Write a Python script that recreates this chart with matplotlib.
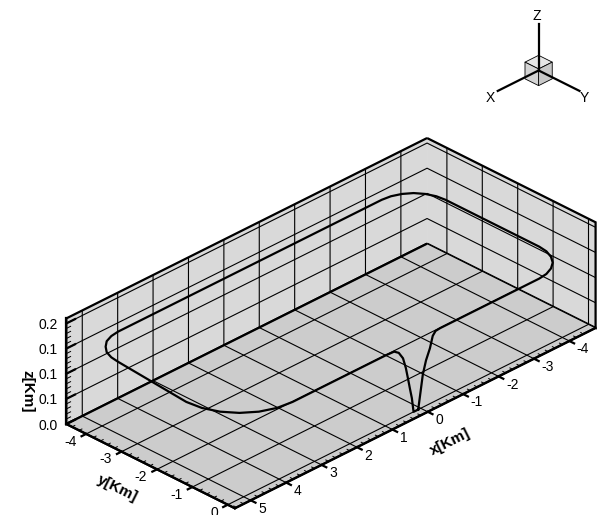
import numpy as np
import matplotlib
matplotlib.use('Agg')
import matplotlib.pyplot as plt
from matplotlib.ticker import FixedLocator
from mpl_toolkits.mplot3d.art3d import Poly3DCollection

plt.rcParams['font.family'] = ['Liberation Sans', 'DejaVu Sans']
plt.rcParams['axes.unicode_minus'] = False

# flight path: climb-out from the runway, circuit, approach and touchdown
path_x = [0.07, 0.03, -0.02, -0.06, -0.15, -0.26, -0.34, -0.42, -0.55, -1.0,
          -3.35, -3.58, -3.80, -3.99, -4.13, -4.22, -4.25,
          -4.25, -4.22, -4.13, -3.99, -3.80, -3.58, -3.35,
          4.10, 4.32, 4.53, 4.70, 4.84, 4.92, 4.95,
          5.12, 5.07, 4.92, 4.68, 4.37, 4.01, 3.62,
          1.0, 0.75, 0.62, 0.50, 0.42, 0.36, 0.30, 0.25, 0.21, 0.20, 0.07]
path_y = [0.0, 0.0, 0.0, 0.0, 0.0, 0.0, 0.0, 0.0, 0.0, 0.0,
          0.0, -0.03, -0.12, -0.26, -0.45, -0.67, -0.90,
          -3.55, -3.78, -4.00, -4.19, -4.33, -4.42, -4.45,
          -4.45, -4.42, -4.34, -4.20, -4.03, -3.82, -3.60,
          -1.50, -1.11, -0.75, -0.44, -0.20, -0.05, 0.0,
          0.0, 0.0, 0.0, 0.0, 0.0, 0.0, 0.0, 0.0, 0.0, 0.0, 0.0]
path_z = [0.0, 0.02, 0.045, 0.065, 0.09, 0.11, 0.132, 0.139, 0.14, 0.14,
          0.14, 0.14, 0.14, 0.14, 0.14, 0.14, 0.14,
          0.14, 0.14, 0.14, 0.14, 0.14, 0.14, 0.14,
          0.14, 0.14, 0.14, 0.14, 0.14, 0.14, 0.14,
          0.14, 0.14, 0.14, 0.14, 0.14, 0.14, 0.14,
          0.14, 0.139, 0.132, 0.117, 0.095, 0.072, 0.048, 0.029, 0.005, 0.0, 0.0]

x_ticks = [-4, -3, -2, -1, 0, 1, 2, 3, 4, 5]
y_ticks = [-4, -3, -2, -1, 0]
z_ticks = [0.0, 0.05, 0.1, 0.15, 0.2]
z_ticklabels = ['0.0', '0.1', '0.1', '0.1', '0.2']

x_lim = (-4.74, 5.45)
y_lim = (-4.56, 0.2)
z_lim = (0.0, 0.21)
z_exag = 11.6

wall = (0.85, 0.85, 0.85)
floor = (0.80, 0.80, 0.80)

fig = plt.figure(figsize=(6.0, 5.15), dpi=100)
side = 515
ax = fig.add_axes([0.540 - side / 1200, 0.359 - side / 1030, side / 600, side / 515],
                  projection='3d', proj_type='ortho', computed_zorder=False)
ax.view_init(elev=30, azim=45)
ax.set_xlim(*x_lim)
ax.set_ylim(*y_lim)
ax.set_zlim(*z_lim)
ax.set_box_aspect((x_lim[1] - x_lim[0], y_lim[1] - y_lim[0],
                   (z_lim[1] - z_lim[0]) * z_exag), zoom=1.086)

# tick length is a fraction of the range along the tick direction
for axis, col, tick_in in ((ax.xaxis, wall, 0.35), (ax.yaxis, wall, 0.16),
                           (ax.zaxis, floor, -0.3)):
    axis.set_pane_color(col)
    axis.pane.set_edgecolor('black')
    axis.pane.set_linewidth(1.6)
    axis.line.set_linewidth(1.6)
    axis.line.set_color('black')
    axis._axinfo['grid'].update(color='black', linewidth=0.8)
    axis._axinfo['tick'].update(inward_factor=tick_in, outward_factor=0.0)
    axis._axinfo['tick']['linewidth'] = {True: 1.6, False: 0.8}

ax.set_xticks(x_ticks)
ax.set_xticklabels([str(t) for t in x_ticks], ha='left', va='center')
ax.set_yticks(y_ticks)
ax.set_yticklabels([str(t) for t in y_ticks], ha='right', va='center')
ax.zaxis.set_major_locator(FixedLocator(z_ticks))
ax.set_zticklabels(z_ticklabels, ha='right', va='center')
ax.tick_params(labelsize=10, colors='black')
ax.tick_params(axis='x', pad=0.5)
ax.tick_params(axis='y', pad=-2.7)
ax.tick_params(axis='z', pad=-5)

# axis titles
fig.text(0.750, 1 - 442 / 515, 'x[Km]', fontsize=11, fontweight='bold',
         rotation=26.6, ha='center', va='center')
fig.text(0.195, 1 - 488 / 515, 'y[Km]', fontsize=11, fontweight='bold',
         rotation=-26.6, ha='center', va='center')
fig.text(0.045, 1 - 391 / 515, 'z[Km]', fontsize=11, fontweight='bold',
         rotation=270, ha='center', va='center')

# minor ticks along the labelled edges, pointing into the box
tick_kw = dict(color='black', linewidth=0.7, zorder=4)
for xm in np.arange(-4.6, 5.41, 0.2):
    if abs(xm - round(xm)) > 1e-6:
        ax.plot([xm, xm], [y_lim[1], y_lim[1] - 0.08], [0, 0], **tick_kw)
for ym in np.arange(-4.4, 0.11, 0.2):
    if abs(ym - round(ym)) > 1e-6:
        ax.plot([x_lim[1], x_lim[1] - 0.08], [ym, ym], [0, 0], **tick_kw)
for zm in np.arange(0.01, 0.205, 0.01):
    if abs(zm / 0.05 - round(zm / 0.05)) > 1e-6:
        ax.plot([x_lim[1], x_lim[1] - 0.12], [y_lim[0], y_lim[0]], [zm, zm], **tick_kw)

ax.plot(path_x, path_y, path_z, color='black', linewidth=1.6, zorder=5)

# orientation triad
tri = fig.add_axes([0.895 - 0.1, 0.86 - 0.1165, 0.2, 0.233],
                   projection='3d', proj_type='ortho', computed_zorder=False)
tri.view_init(elev=30, azim=45)
tri.set_xlim(-1, 1)
tri.set_ylim(-1, 1)
tri.set_zlim(-1, 1)
tri.set_box_aspect((1, 1, 1), zoom=1.8)
tri.set_axis_off()
arm = 0.9
tri.plot([0, arm], [0, 0], [0, 0], color='black', linewidth=1.6)
tri.plot([0, 0], [0, arm], [0, 0], color='black', linewidth=1.6)
tri.plot([0, 0], [0, 0], [0, arm * 0.92], color='black', linewidth=1.6)
h = 0.15
faces = [
    [(-h, -h, h), (h, -h, h), (h, h, h), (-h, h, h)],
    [(h, -h, -h), (h, h, -h), (h, h, h), (h, -h, h)],
    [(-h, h, -h), (h, h, -h), (h, h, h), (-h, h, h)],
]
tri.add_collection3d(Poly3DCollection(faces, facecolors=['#e6e6e6', '#d4d4d4', '#c8c8c8'],
                                      edgecolors='black', linewidths=0.6))
fig.text(490 / 600, 1 - 98 / 515, 'X', fontsize=10, ha='center', va='center')
fig.text(584 / 600, 1 - 98 / 515, 'Y', fontsize=10, ha='center', va='center')
fig.text(537 / 600, 1 - 16 / 515, 'Z', fontsize=10, ha='center', va='center')

fig.savefig('out.png', dpi=100)
